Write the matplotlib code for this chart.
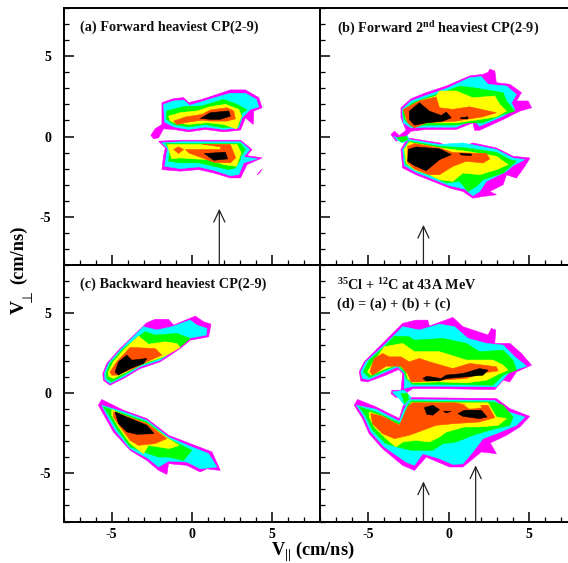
import numpy as np
import matplotlib
matplotlib.use("Agg")
import matplotlib.pyplot as plt
from matplotlib.ticker import MultipleLocator

plt.rcParams['font.family'] = ['Liberation Serif', 'DejaVu Serif']
plt.rcParams['font.weight'] = 'bold'
plt.rcParams['mathtext.fontset'] = 'custom'
plt.rcParams['mathtext.rm'] = 'Liberation Serif:bold'
plt.rcParams['mathtext.bf'] = 'Liberation Serif:bold'
plt.rcParams['mathtext.fallback'] = 'stix'
plt.rcParams['axes.unicode_minus'] = False

# contour outlines, (V_par, V_perp) in cm/ns
# panel (a)
a_magenta = [
    [(-2.55,0.07),(-2.28,0.48),(-1.86,0.75),(-1.86,2.11),(-1.13,2.36),(-0.51,2.42),(-0.19,2.11),(0.64,2.31),(1.79,2.69),(2.41,2.9),(3.35,2.9),(4.18,2.42),(4.39,1.79),(3.87,1.59),(3.83,0.75),(3.35,1.17),(3.04,0.4),(1.99,0.29),(0.85,0.44),(-0.19,0.29),(-1.13,0.44),(-1.76,0.48),(-2.07,-0.08),(-2.38,-0.14)],
    [(-2.07,-0.29),(-0.72,-0.23),(3.04,-0.23),(3.76,-0.81),(3.45,-1.19),(4.39,-1.33),(3.45,-1.75),(3.04,-2.58),(2.41,-2.58),(1.37,-2.27),(0.43,-2.06),(-0.72,-2.16),(-1.86,-2.06),(-1.76,-1.23),(-1.65,-0.71)],
    [(4.08,-2.37),(4.39,-2.02),(4.2,-2.3)],
]
a_cyan = [
    [(-1.76,2.0),(-1.13,2.21),(-0.51,2.27),(-0.13,1.94),(0.64,2.17),(1.79,2.52),(2.41,2.69),(3.35,2.69),(4.03,2.31),(4.18,1.84),(3.66,1.69),(3.14,1.17),(2.93,0.54),(1.99,0.44),(0.85,0.59),(-0.19,0.44),(-1.13,0.6),(-1.69,0.9)],
    [(-1.86,-0.39),(-0.72,-0.33),(3.04,-0.33),(3.62,-0.81),(3.24,-1.27),(4.08,-1.39),(3.24,-1.64),(2.93,-2.37),(2.41,-2.44),(1.37,-2.1),(0.43,-1.89),(-0.72,-2.0),(-1.69,-1.85),(-1.59,-1.23),(-1.51,-0.77)],
]
a_green = [
    [(-1.55,1.59),(-0.51,1.86),(0.64,1.9),(1.99,2.31),(2.83,2.0),(3.45,1.65),(3.14,1.48),(2.93,0.65),(1.99,0.54),(0.85,0.75),(-0.19,0.6),(-1.13,0.75),(-1.59,1.07)],
    [(-1.65,-0.44),(3.04,-0.44),(3.35,-0.81),(3.04,-1.27),(3.04,-1.44),(2.72,-1.96),(2.3,-2.06),(1.37,-1.85),(0.43,-1.64),(-0.72,-1.64),(-1.44,-1.54),(-1.38,-0.81)],
]
a_yellow = [
    [(-1.44,1.27),(-0.72,1.48),(0.33,1.59),(1.16,1.86),(2.1,2.0),(2.93,1.69),(3.1,1.27),(2.79,0.48),(1.99,0.75),(0.95,0.86),(-0.19,0.75),(-1.13,0.86),(-1.38,1.02)],
    [(-1.51,-0.5),(2.83,-0.5),(3.08,-1.02),(2.79,-1.85),(1.99,-1.75),(1.16,-1.44),(0.12,-1.39),(-0.72,-1.33),(-1.24,-1.39),(-1.44,-0.81)],
]
a_orange = [
    [(-1.13,0.96),(-0.4,1.21),(0.64,1.38),(1.16,1.65),(2.2,1.79),(2.62,1.59),(2.72,1.1),(2.2,0.96),(1.16,0.96),(0.64,1.02),(-0.19,0.9),(-0.92,0.75)],
    [(0.64,-0.48),(2.41,-0.5),(2.74,-1.33),(2.41,-1.64),(1.37,-1.6),(0.64,-1.33),(-0.19,-1.02),(-0.4,-0.81),(0.54,-0.81),(1.79,-0.81),(1.79,-0.64)],
    [(-1.13,-0.81),(-0.82,-0.64),(-0.51,-0.81),(-0.82,-1.06)],
]
a_black = [
    [(0.54,1.13),(1.16,1.48),(2.31,1.59),(2.41,1.27),(1.79,1.07),(1.16,1.07)],
    [(0.79,-1.06),(2.1,-0.98),(2.24,-1.39),(1.37,-1.48)],
]

# panel (b)
b_magenta = [
    [(-3.58,0.12),(-3.37,0.33),(-3.06,0.06),(-2.64,0.39),(-2.96,1.16),(-2.96,1.79),(-2.33,2.35),(-1.39,2.73),(-0.14,3.14),(1.32,3.77),(2.15,3.87),(2.47,4.0),(2.57,4.19),(2.88,4.08),(2.98,3.35),(3.82,3.25),(4.54,2.73),(4.23,2.21),(4.96,2.21),(5.17,1.79),(4.44,1.58),(3.4,1.06),(1.94,0.39),(1.63,0.39),(1.52,0.85),(0.48,0.44),(-1.39,0.44),(-2.33,0.33),(-2.64,0.02),(-3.27,-0.29)],
    [(-2.54,-0.09),(-0.56,-0.4),(0.48,-0.81),(1.52,-0.4),(2.98,-0.71),(4.02,-1.23),(5.07,-1.34),(4.75,-1.86),(4.23,-2.59),(3.61,-2.38),(3.4,-3.0),(2.57,-3.42),(2.98,-3.63),(2.15,-3.73),(1.52,-3.84),(0.9,-3.42),(0.07,-3.21),(-0.98,-2.79),(-2.02,-2.38),(-2.85,-1.96),(-2.96,-0.81)],
]
b_cyan = [
    [(-2.89,1.69),(-2.33,2.21),(-1.39,2.56),(-0.14,2.98),(1.32,3.66),(2.04,3.73),(2.46,3.25),(3.61,3.14),(4.23,2.62),(3.92,2.1),(4.13,1.69),(3.4,1.27),(1.94,0.64),(1.52,1.06),(0.48,0.58),(-1.39,0.58),(-2.33,0.54),(-2.81,0.85)],
    [(-2.44,-0.19),(-0.56,-0.5),(0.9,-0.4),(2.98,-0.81),(4.02,-1.34),(4.75,-1.44),(4.02,-1.81),(3.61,-2.17),(2.36,-2.79),(1.94,-3.42),(1.52,-3.69),(1.0,-3.27),(0.07,-3.06),(-0.98,-2.65),(-2.02,-2.23),(-2.75,-1.81),(-2.85,-0.81)],
    [(-3.41,0.02),(-3.06,-0.19),(-2.54,0.06),(-2.48,-0.19),(-2.85,-0.4),(-3.23,-0.19)],
]
b_green = [
    [(-2.85,1.58),(-2.23,2.1),(-1.39,2.41),(-0.14,2.83),(0.69,3.14),(1.52,3.04),(3.4,2.73),(3.61,2.21),(4.13,1.58),(3.4,1.37),(2.15,0.85),(1.21,0.85),(0.48,0.71),(-1.39,0.71),(-2.33,0.64),(-2.75,1.06)],
    [(-2.44,-0.29),(-0.56,-0.61),(1.11,-0.71),(2.98,-0.98),(3.81,-1.44),(4.23,-1.54),(3.4,-2.27),(2.15,-2.69),(1.73,-3.11),(1.21,-3.42),(0.69,-2.79),(-0.14,-2.9),(-0.98,-2.48),(-2.02,-2.11),(-2.69,-1.69),(-2.75,-0.81)],
    [(-3.2,-0.05),(-2.6,0.0),(-2.55,-0.2),(-2.95,-0.35)],
]
b_yellow = [
    [(-2.75,1.69),(-1.81,2.21),(-0.77,2.52),(-0.56,2.83),(0.48,2.83),(1.52,2.41),(2.88,2.52),(3.19,2.0),(3.61,1.58),(2.98,1.23),(1.94,1.06),(0.48,0.85),(-1.39,0.85),(-2.33,0.75),(-2.64,1.06)],
    [(-2.44,-0.36),(-0.56,-0.71),(1.11,-0.92),(2.98,-1.23),(3.71,-1.75),(2.98,-2.07),(1.94,-2.38),(0.9,-2.27),(0.27,-2.79),(-0.56,-2.69),(-1.19,-2.38),(-2.12,-2.07),(-2.64,-1.65),(-2.75,-0.81)],
]
b_orange = [
    [(-2.81,1.69),(-1.81,2.21),(-0.77,2.46),(-0.56,1.79),(0.27,1.69),(1.32,1.85),(2.98,1.48),(2.15,1.23),(0.48,0.96),(-1.39,0.85),(-2.12,0.54),(-2.54,0.85)],
    [(-2.54,-0.61),(-2.12,-0.44),(-0.56,-0.71),(0.27,-1.0),(2.36,-1.06),(2.57,-1.4),(2.15,-1.65),(1.11,-1.54),(0.27,-1.86),(-0.56,-2.38),(-1.19,-2.38),(-2.12,-2.02),(-2.54,-1.65)],
]
b_black = [
    [(-2.44,1.58),(-1.81,2.1),(-1.19,1.58),(-0.46,1.31),(-0.14,1.52),(0.17,1.16),(-0.35,0.96),(-1.39,0.85),(-2.12,0.71),(-2.44,1.06)],
    [(0.73,1.16),(1.21,1.23),(1.21,1.1),(0.79,1.1)],
    [(-2.5,-0.81),(-2.02,-0.65),(-0.56,-0.77),(0.17,-1.13),(-0.56,-1.44),(-1.39,-2.13),(-2.12,-1.81),(-2.54,-1.54)],
    [(0.69,-1.06),(1.42,-1.09),(1.42,-1.19),(0.79,-1.15)],
]

# panel (c)
c_magenta = [
    [(-5.55,1.23),(-5.3,1.86),(-4.47,2.79),(-2.8,4.4),(-2.28,4.61),(-1.45,4.61),(-1.14,4.25),(0.22,4.81),(0.74,4.46),(1.2,4.31),(1.05,3.52),(-0.1,3.31),(-0.72,2.79),(-1.97,1.96),(-3.22,1.54),(-4.26,0.92),(-5.1,0.5),(-5.51,0.81)],
    [(-5.82,-0.75),(-5.62,-0.39),(-4.26,-1.06),(-2.8,-1.58),(-1.45,-2.62),(-0.1,-3.14),(1.26,-3.66),(1.78,-4.81),(1.36,-4.77),(0.95,-4.71),(0.53,-4.91),(-0.3,-4.5),(-1.45,-4.39),(-1.55,-5.06),(-2.07,-4.81),(-2.8,-4.19),(-3.84,-3.56),(-4.89,-2.41),(-5.41,-1.48)],
]
c_cyan = [
    [(-5.45,1.23),(-5.2,1.86),(-4.37,2.79),(-3.01,4.15),(-2.18,3.94),(-1.24,4.15),(-0.1,4.56),(0.32,4.25),(0.95,4.04),(0.9,3.63),(-0.2,3.42),(-0.82,2.9),(-1.97,2.06),(-3.22,1.65),(-4.26,1.02),(-5.1,0.61),(-5.41,0.86)],
    [(-5.62,-0.75),(-4.26,-1.16),(-2.8,-1.69),(-1.45,-2.73),(-0.1,-3.31),(1.05,-3.77),(1.57,-4.6),(0.53,-4.71),(-0.3,-4.29),(-1.45,-4.23),(-2.07,-4.6),(-2.7,-4.08),(-3.84,-3.46),(-4.78,-2.31),(-5.3,-1.37)],
]
c_green = [
    [(-5.35,1.23),(-5.1,1.86),(-4.26,2.79),(-2.91,3.84),(-2.28,3.63),(-0.93,3.73),(-0.1,3.42),(-0.72,2.9),(-1.97,2.17),(-3.22,1.75),(-4.26,1.13),(-5.0,0.71),(-5.3,0.92)],
    [(-5.51,-0.85),(-4.26,-1.27),(-2.8,-1.79),(-1.45,-2.83),(0.0,-3.56),(-0.51,-4.19),(-1.45,-3.98),(-2.07,-3.98),(-2.7,-3.77),(-3.84,-3.35),(-4.68,-2.21),(-5.2,-1.31)],
]
c_yellow = [
    [(-5.2,1.33),(-4.89,1.96),(-4.16,2.79),(-3.32,3.56),(-2.7,3.06),(-1.66,3.21),(-0.93,3.1),(-0.72,2.86),(-1.76,2.27),(-3.01,1.86),(-4.26,1.23),(-4.89,0.92),(-5.2,1.07)],
    [(-4.99,-1.02),(-4.26,-1.37),(-2.8,-1.89),(-1.45,-2.83),(-0.8,-3.25),(-1.4,-3.45),(-2.7,-3.25),(-3.01,-3.77),(-3.84,-3.14),(-4.57,-2.1),(-4.99,-1.37)],
]
c_orange = [
    [(-5.1,1.33),(-4.68,1.96),(-3.84,2.86),(-2.28,2.79),(-1.87,2.38),(-2.8,1.96),(-3.64,1.54),(-4.68,1.13),(-4.99,1.13)],
    [(-4.89,-1.16),(-4.26,-1.37),(-2.8,-1.89),(-1.55,-2.83),(-2.28,-3.14),(-3.32,-3.25),(-3.84,-2.94),(-4.47,-2.1),(-4.89,-1.48)],
]
c_black = [
    [(-4.78,1.33),(-4.57,1.96),(-4.05,2.38),(-3.74,2.06),(-2.8,2.17),(-3.01,1.86),(-3.84,1.54),(-4.57,1.13)],
    [(-4.78,-1.16),(-4.16,-1.44),(-2.8,-2.0),(-2.35,-2.52),(-3.43,-2.56),(-4.05,-2.41),(-4.57,-1.89)],
]

# panel (d)
d_magenta = [
    [(-5.56,1.34),(-5.25,1.96),(-4.1,3.11),(-2.85,4.36),(-2.02,4.56),(-1.29,4.56),(-1.19,4.19),(0.27,4.73),(0.9,4.15),(2.46,3.63),(2.67,4.04),(2.94,3.94),(2.88,3.11),(3.82,3.11),(4.54,2.48),(5.17,1.75),(4.23,1.34),(3.82,0.71),(3.4,0.81),(2.88,0.23),(-0.56,0.29),(-2.23,0.29),(-2.54,0.09),(-2.75,-0.12),(-3.27,-0.27),(-3.58,-0.02),(-3.52,0.19),(-2.96,0.19),(-2.85,1.23),(-3.1,1.48),(-3.89,1.13),(-5.04,0.71),(-5.46,0.77)],
    [(-5.87,-0.75),(-5.66,-0.39),(-4.52,-0.85),(-3.06,-1.58),(-2.85,-0.85),(-2.54,-0.27),(2.98,-0.33),(3.82,-0.96),(5.06,-1.44),(4.44,-2.1),(3.61,-2.62),(2.6,-3.1),(2.98,-3.77),(2.04,-3.66),(0.9,-4.6),(0.07,-4.6),(-0.66,-4.29),(-1.39,-3.98),(-2.12,-4.81),(-2.85,-4.5),(-4.1,-3.46),(-4.94,-2.52),(-5.35,-1.58)],
]
d_cyan = [
    [(-5.46,1.34),(-5.14,1.96),(-4.0,3.0),(-2.85,4.15),(-1.81,3.94),(-0.56,4.31),(0.38,4.15),(1.21,3.42),(2.36,3.11),(3.4,3.0),(4.13,2.27),(4.86,1.69),(3.82,1.34),(2.98,0.4),(-0.56,0.44),(-2.23,0.44),(-2.75,0.29),(-2.75,1.23),(-3.17,1.65),(-3.89,1.34),(-4.94,0.86),(-5.35,0.92)],
    [(-5.73,-0.75),(-4.52,-1.0),(-3.06,-1.75),(-2.75,-0.96),(-2.44,-0.4),(2.88,-0.44),(3.71,-1.16),(4.75,-1.48),(4.23,-2.0),(2.98,-2.52),(2.15,-2.83),(1.52,-3.66),(0.9,-4.4),(0.27,-4.44),(-0.56,-4.08),(-1.6,-3.77),(-2.12,-4.5),(-2.64,-4.29),(-4.0,-3.35),(-4.83,-2.42),(-5.25,-1.48)],
    [(-3.48,0.08),(-2.75,0.19),(-2.33,-0.27),(-2.75,-0.75),(-3.06,-0.33),(-3.37,-0.06)],
]
d_green = [
    [(-5.31,1.34),(-4.94,2.06),(-3.89,3.0),(-3.37,3.56),(-2.44,3.52),(-2.12,3.31),(-0.35,3.42),(1.11,3.11),(1.94,2.59),(3.4,2.69),(4.02,2.06),(4.23,1.44),(3.4,1.13),(2.77,0.5),(-0.56,0.56),(-2.23,0.56),(-2.64,0.92),(-2.75,1.34),(-3.17,1.75),(-3.89,1.44),(-4.94,0.98)],
    [(-5.56,-0.85),(-4.52,-1.17),(-2.96,-1.9),(-2.54,-0.75),(-2.33,-0.48),(2.77,-0.54),(3.4,-0.75),(4.02,-1.48),(3.82,-2.0),(2.56,-2.31),(1.52,-2.62),(0.48,-3.04),(-0.35,-3.15),(-0.98,-3.56),(-2.33,-3.56),(-3.0,-3.4),(-3.89,-3.15),(-4.73,-2.31),(-5.14,-1.44)],
    [(-2.96,-0.02),(-2.54,-0.02),(-2.48,-0.39),(-2.75,-0.64),(-2.85,-0.27)],
]
d_yellow = [
    [(-5.04,1.34),(-4.73,1.86),(-4.0,2.9),(-2.85,3.11),(-2.12,2.59),(-0.56,2.59),(1.11,2.07),(2.77,2.07),(3.4,1.75),(3.71,1.44),(3.19,1.23),(2.36,0.81),(1.11,0.65),(-0.56,0.71),(-2.23,0.65),(-2.54,0.92),(-2.64,1.34),(-3.1,1.81),(-3.89,1.54),(-4.83,1.13)],
    [(-4.94,-1.16),(-4.1,-1.44),(-3.06,-2.0),(-2.54,-1.06),(-2.33,-0.6),(2.46,-0.6),(2.98,-1.48),(3.61,-1.58),(3.09,-2.0),(1.94,-2.1),(1.0,-2.1),(-0.14,-2.42),(-0.56,-2.73),(-1.19,-3.04),(-2.02,-2.94),(-2.85,-3.04),(-3.27,-3.35),(-3.89,-2.83),(-4.62,-2.1),(-4.94,-1.48)],
]
d_orange = [
    [(-4.89,1.34),(-4.62,2.17),(-4.1,2.48),(-3.69,2.27),(-2.96,2.27),(-2.44,1.96),(-1.81,2.17),(-1.19,1.96),(0.27,1.54),(1.32,1.86),(2.98,1.65),(3.09,1.4),(1.94,1.23),(1.11,0.92),(-0.56,0.81),(-1.81,0.71),(-2.33,0.71),(-2.54,1.23),(-2.96,1.69),(-3.89,1.69),(-4.73,1.13)],
    [(-4.83,-1.27),(-4.1,-1.44),(-3.06,-2.0),(-2.54,-0.85),(-2.23,-0.6),(0.48,-0.6),(1.11,-0.75),(2.46,-0.75),(2.88,-1.52),(1.94,-1.79),(0.27,-1.9),(-0.77,-2.0),(-1.6,-2.31),(-2.44,-2.62),(-3.37,-2.83),(-4.1,-2.52),(-4.73,-1.9)],
]
d_yellow_top = [
    [(1.0,-0.75),(1.94,-0.69),(2.04,-0.89),(1.31,-0.96)],
]
d_black = [
    [(-1.6,0.92),(-1.35,1.06),(-0.46,0.92),(-0.14,1.13),(0.9,1.23),(1.94,1.54),(2.46,1.44),(2.15,1.13),(1.0,1.02),(-0.14,0.92),(-0.56,0.77),(-1.39,0.77)],
    [(-1.5,-0.9),(-0.98,-0.75),(-0.56,-1.02),(-0.98,-1.37),(-1.35,-1.31)],
    [(-0.31,-1.12),(0.17,-1.12),(-0.14,-1.23)],
    [(0.59,-1.27),(1.0,-1.06),(2.04,-1.06),(2.4,-1.48),(1.94,-1.58),(0.9,-1.44)],
]

level_colors = ['#ff00ff', '#00ffff', '#00ff00', '#ffff00', '#ff5000', '#000000']
a_levels = [a_magenta, a_cyan, a_green, a_yellow, a_orange, a_black]
b_levels = [b_magenta, b_cyan, b_green, b_yellow, b_orange, b_black]
c_levels = [c_magenta, c_cyan, c_green, c_yellow, c_orange, c_black]
d_levels = [d_magenta, d_cyan, d_green, d_yellow, d_orange, d_black]

# arrow (V_par, tip V_perp)
a_arrows = [(1.72, -4.5)]
b_arrows = [(-1.56, -5.5)]
c_arrows = []
d_arrows = [(-1.56, -5.5), (1.69, -4.5)]

a_text = ["(a) Forward heaviest CP(2-9)"]
b_text = [r"(b) Forward 2$^{\mathbf{nd}}$ heaviest CP(2-9)"]
c_text = ["(c) Backward heaviest CP(2-9)"]
d_text = [r"$^{\mathbf{35}}$Cl + $^{\mathbf{12}}$C at 43A MeV", "(d) = (a) + (b) + (c)"]

W, H = 568, 563
fig = plt.figure(figsize=(W / 100, H / 100), dpi=100)


def panel(left, top, right, bottom, levels, arrows, text, show_x, show_y):
    ax = fig.add_axes([left / W, 1 - bottom / H, (right - left) / W, (bottom - top) / H])
    ax.set_xlim(-8, 8)
    ax.set_ylim(-8, 8)
    for color, polys in zip(level_colors, levels):
        for poly in polys:
            xy = np.array(poly)
            ax.fill(xy[:, 0], xy[:, 1], color=color, lw=0.4, zorder=2)
    for x, tip in arrows:
        ax.annotate("", xy=(x, tip), xytext=(x, -8), zorder=5,
                    arrowprops=dict(arrowstyle="->,head_length=0.85,head_width=0.4",
                                    color='#222222', lw=0.9, shrinkA=0, shrinkB=0))
    for i, t in enumerate(text):
        ax.text(-6.97, 6.8 - i * 1.25, t, fontsize=10.3, fontweight='bold',
                va='center', ha='left', color='#111111')
    ax.xaxis.set_major_locator(MultipleLocator(5))
    ax.yaxis.set_major_locator(MultipleLocator(5))
    ax.xaxis.set_minor_locator(MultipleLocator(1))
    ax.yaxis.set_minor_locator(MultipleLocator(1))
    ax.tick_params(which='major', direction='in', length=7.2, width=1.1, labelsize=10,
                   bottom=True, left=True, top=False, right=False,
                   labelbottom=show_x, labelleft=show_y)
    ax.tick_params(which='minor', direction='in', length=3.4, width=0.9,
                   bottom=True, left=True, top=False, right=False)
    ax.tick_params(axis='x', which='major', pad=5)
    ax.tick_params(axis='y', which='major', pad=9)
    for s in ax.spines.values():
        s.set_linewidth(1.4)
    return ax


panel(63.5, 8, 320, 265, a_levels, a_arrows, a_text, False, True)
panel(320, 8, 577, 265, b_levels, b_arrows, b_text, False, False)
panel(63.5, 265, 320, 521.5, c_levels, c_arrows, c_text, True, True)
ax_d = panel(320, 265, 577, 521.5, d_levels, d_arrows, d_text, True, False)
for poly in d_yellow_top:
    xy = np.array(poly)
    ax_d.fill(xy[:, 0], xy[:, 1], color='#ffff00', lw=0.3, zorder=3)

# V_perp label, in three pieces so the perp sign stays thin
fig.text(19 / W, 1 - 307 / H, "V", rotation=90, fontsize=14, fontweight='bold',
         ha='center', va='center')
fig.text(28 / W, 1 - 296 / H, "\u22a5", rotation=90, fontsize=10, fontweight='normal',
         family='DejaVu Sans', ha='center', va='center')
fig.text(19 / W, 1 - 255 / H, "(cm/ns)", rotation=90, fontsize=13.2, fontweight='bold',
         ha='center', va='center')
fig.text(313 / W, 1 - 552 / H, r"V$_{||}$ (cm/ns)", fontsize=13.2,
         fontweight='bold', ha='center', va='center')

fig.savefig("out.png", dpi=100)
